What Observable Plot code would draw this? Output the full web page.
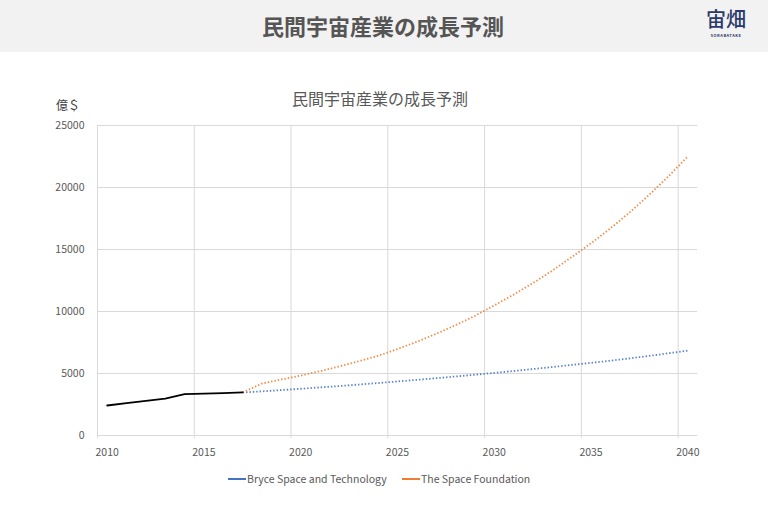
<!DOCTYPE html>
<html>
<head>
<meta charset="utf-8">
<script src="https://cdn.jsdelivr.net/npm/d3@7"></script>
<script src="https://cdn.jsdelivr.net/npm/@observablehq/plot@0.6"></script>
<style>
  html, body { margin: 0; padding: 0; background: #fff; }
  body { width: 768px; height: 511px; position: relative; overflow: hidden;
         font-family: "Noto Sans CJK JP", "Noto Sans", sans-serif; }
  #header { position: absolute; left: 0; top: 0; width: 768px; height: 52px; background: #f2f2f2; }
  #header h1 { margin: 0; position: absolute; left: 0; width: 766px; top: 10px; text-align: center;
               font-size: 22px; font-weight: 700; color: #555; line-height: 30px; }
  #logo { position: absolute; left: 704px; top: 8px; width: 44px; text-align: center; color: #2b3a6b; }
  #logo .mark { font-size: 20px; line-height: 22px; font-weight: 500; }
  #logo .sub { margin-top: 3px; font-size: 4px; letter-spacing: 0.5px; font-weight: 700; line-height: 5px; }
  #title { position: absolute; left: 0; width: 760px; top: 88px; text-align: center;
           font-size: 16px; color: #595959; line-height: 20px; }
  #ylabel { position: absolute; left: 56px; top: 96px; font-size: 12px; color: #404040; }
  #chart { position: absolute; left: 0; top: 52px; }
  #legend { position: absolute; left: 0; top: 472px; width: 768px; font-size: 10.5px; color: #595959; }
  #legend .item { position: absolute; top: 0; white-space: nowrap; line-height: 14px; }
  #legend .sw { display: inline-block; width: 18px; height: 2px; vertical-align: middle; margin-right: 1px;
                position: relative; top: -1px; }
</style>
</head>
<body>
<div id="header"><h1>民間宇宙産業の成長予測</h1>
  <div id="logo"><div class="mark">宙畑</div><div class="sub">SORABATAKE</div></div>
</div>
<div id="title">民間宇宙産業の成長予測</div>
<div id="ylabel">億＄</div>
<div id="chart"></div>
<div id="legend"></div>
<script>
"use strict";

// history (black), 2010-2017
const histYears = [2010, 2011, 2012, 2013, 2014, 2015, 2016, 2017];
const histValues = [2420, 2610, 2790, 2980, 3330, 3380, 3420, 3470];

// projections, 2017-2040
const projYears = [2017, 2018, 2019, 2020, 2021, 2022, 2023, 2024, 2025, 2026, 2027, 2028,
  2029, 2030, 2031, 2032, 2033, 2034, 2035, 2036, 2037, 2038, 2039, 2040];
const bryceValues = [3470, 3560, 3660, 3770, 3880, 3990, 4110, 4230, 4360, 4490, 4620, 4760,
  4900, 5050, 5200, 5360, 5520, 5690, 5860, 6030, 6220, 6420, 6630, 6850];
const foundationValues = [3470, 4190, 4520, 4830, 5190, 5570, 5990, 6430, 6970, 7560, 8200, 8900,
  9650, 10490, 11360, 12290, 13300, 14390, 15500, 16700, 18000, 19400, 20900, 22500];

const seriesNames = ["Bryce Space and Technology", "The Space Foundation"];
const seriesColors = ["#4472c4", "#ed7d31"];

const xTicks = [2010, 2015, 2020, 2025, 2030, 2035, 2040];
const yTicks = [0, 5000, 10000, 15000, 20000, 25000];

// each year is a category slot [y, y+1]; points sit at the slot centre
const mid = (y) => y + 0.5;
const hist = histYears.map((y, i) => ({ x: mid(y), v: histValues[i] }));
const bryce = projYears.map((y, i) => ({ x: mid(y), v: bryceValues[i] }));
const found = projYears.map((y, i) => ({ x: mid(y), v: foundationValues[i] }));

const grid = "#d9d9d9";
const tickColor = "#595959";
const dotted = { strokeWidth: 1.8, strokeDasharray: "1.4 2", strokeLinecap: "butt", strokeOpacity: 0.9 };

const chart = Plot.plot({
  width: 768, height: 459,
  marginLeft: 97, marginRight: 71, marginTop: 73, marginBottom: 76,
  style: { fontFamily: "'Noto Sans CJK JP', 'Noto Sans', sans-serif", fontSize: "10px", color: tickColor, background: "transparent" },
  x: { domain: [2010, 2041], axis: null },
  y: { domain: [0, 25000], axis: null },
  marks: [
    Plot.ruleY(yTicks, { y: (d) => d, x1: 2010, x2: 2041, stroke: grid, strokeWidth: 1 }),
    Plot.ruleX(xTicks, { x: (d) => d, y1: 25000, y2: -250, stroke: grid, strokeWidth: 1 }),
    Plot.text(yTicks, { x: 2010, y: (d) => d, text: (d) => String(d), textAnchor: "end", dx: -13, fill: tickColor, fontSize: 10.5 }),
    Plot.text(xTicks, { x: (d) => mid(d), y: 0, text: (d) => String(d), dy: 17, fill: tickColor, fontSize: 10.5 }),
    Plot.line(bryce, { x: "x", y: "v", stroke: seriesColors[0], ...dotted }),
    Plot.line(found, { x: "x", y: "v", stroke: seriesColors[1], ...dotted }),
    Plot.line(hist, { x: "x", y: "v", stroke: "#000", strokeWidth: 1.8 }),
  ],
});
document.getElementById("chart").appendChild(chart);

const legendX = [228, 402];
document.getElementById("legend").innerHTML = seriesNames.map((n, i) =>
  `<span class="item" style="left:${legendX[i]}px"><span class="sw" style="background:${seriesColors[i]}"></span>${n}</span>`
).join("");
</script>
</body>
</html>
